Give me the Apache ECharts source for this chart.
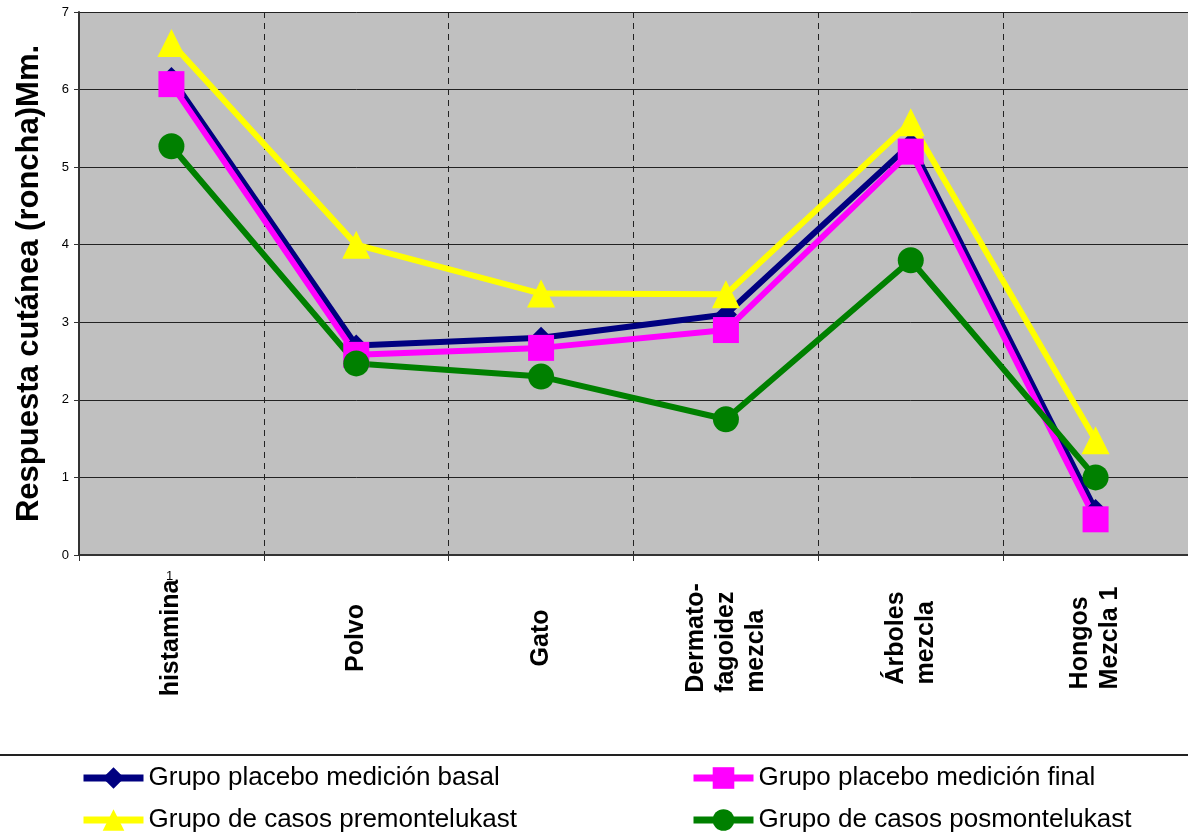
<!DOCTYPE html>
<html>
<head>
<meta charset="utf-8">
<script src="https://cdn.jsdelivr.net/npm/echarts@6/dist/echarts.min.js"></script>
<style>
  html, body { margin: 0; padding: 0; background: #fff; }
  #chart { width: 1188px; height: 839px; }
</style>
</head>
<body>
<div id="chart"></div>
<script>
// data
const categories = ['histamina', 'Polvo', 'Gato', 'Dermato-\nfagoidez\nmezcla', 'Árboles\nmezcla', 'Hongos\nMezcla 1'];
const placeboBasal = [6.15, 2.7, 2.8, 3.1, 5.3, 0.58];
const placeboFinal = [6.07, 2.58, 2.67, 2.9, 5.2, 0.46];
const casosPre = [6.6, 4.0, 3.37, 3.36, 5.58, 1.48];
const casosPos = [5.27, 2.47, 2.3, 1.75, 3.8, 1.0];
const yTicks = { min: 0, max: 7, interval: 1 };

const font = '"Liberation Sans", Arial, sans-serif';

const chart = echarts.init(document.getElementById('chart'));

function lineSeries(name, data, color, symbol, size) {
  return {
    name: name,
    type: 'line',
    data: data,
    symbol: symbol,
    symbolSize: size,
    color: color,
    lineStyle: { width: 6, color: color },
    itemStyle: { color: color }
  };
}

function legendAt(name, left, top) {
  return {
    left: left, top: top, padding: 0,
    itemWidth: 60, itemHeight: 27,
    data: [name],
    lineStyle: { width: 7 },
    textStyle: { fontFamily: font, fontSize: 26, color: '#000' }
  };
}

const option = {
  animation: false,
  grid: { left: 79, top: 12, right: 0, bottom: 284, show: true, backgroundColor: '#c0c0c0', borderWidth: 0 },
  xAxis: {
    type: 'category',
    data: categories,
    boundaryGap: true,
    axisLine: { lineStyle: { color: '#333', width: 2 } },
    axisTick: { show: true, length: 6, lineStyle: { color: '#333' } },
    splitLine: { show: true, lineStyle: { color: '#222', type: [6, 5], width: 1 } },
    axisLabel: {
      rotate: 90,
      margin: 83,
      align: 'center',
      verticalAlign: 'middle',
      interval: 0,
      // each line left-aligned inside the block, like the original
      formatter: function (v) {
        return v.split('\n').map(function (s) { return '{l|' + s + '}'; }).join('\n');
      },
      rich: {
        l: { align: 'left', color: '#000', fontFamily: font, fontWeight: 'bold', fontSize: 25, lineHeight: 30 }
      }
    }
  },
  yAxis: {
    type: 'value',
    min: yTicks.min,
    max: yTicks.max,
    interval: yTicks.interval,
    name: 'Respuesta cutánea (roncha)Mm.',
    nameLocation: 'middle',
    nameRotate: 90,
    nameGap: 34,
    nameTextStyle: { fontFamily: font, fontWeight: 'bold', fontSize: 31, color: '#000' },
    axisLine: { show: true, lineStyle: { color: '#333', width: 2 } },
    axisTick: { show: true, length: 5, lineStyle: { color: '#333' } },
    splitLine: { show: true, lineStyle: { color: '#222', width: 1 } },
    axisLabel: { margin: 10, color: '#000', fontFamily: font, fontSize: 13 }
  },
  legend: [
    legendAt('Grupo placebo medición basal', 80, 765),
    legendAt('Grupo de casos premontelukast', 80, 807),
    legendAt('Grupo placebo medición final', 690, 765),
    legendAt('Grupo de casos posmontelukast', 690, 807)
  ],
  graphic: [
    { type: 'line', shape: { x1: 0, y1: 755, x2: 1188, y2: 755 }, style: { stroke: '#222', lineWidth: 2 } },
    { type: 'text', left: 166, top: 570, style: { text: '1', fontFamily: font, fontSize: 13, fill: '#000' } }
  ],
  series: [
    lineSeries('Grupo placebo medición basal', placeboBasal, '#000080', 'diamond', 22),
    lineSeries('Grupo placebo medición final', placeboFinal, '#ff00ff', 'rect', 26),
    lineSeries('Grupo de casos premontelukast', casosPre, '#ffff00', 'triangle', 28),
    lineSeries('Grupo de casos posmontelukast', casosPos, '#008000', 'circle', 26)
  ]
};

chart.setOption(option);
</script>
</body>
</html>
